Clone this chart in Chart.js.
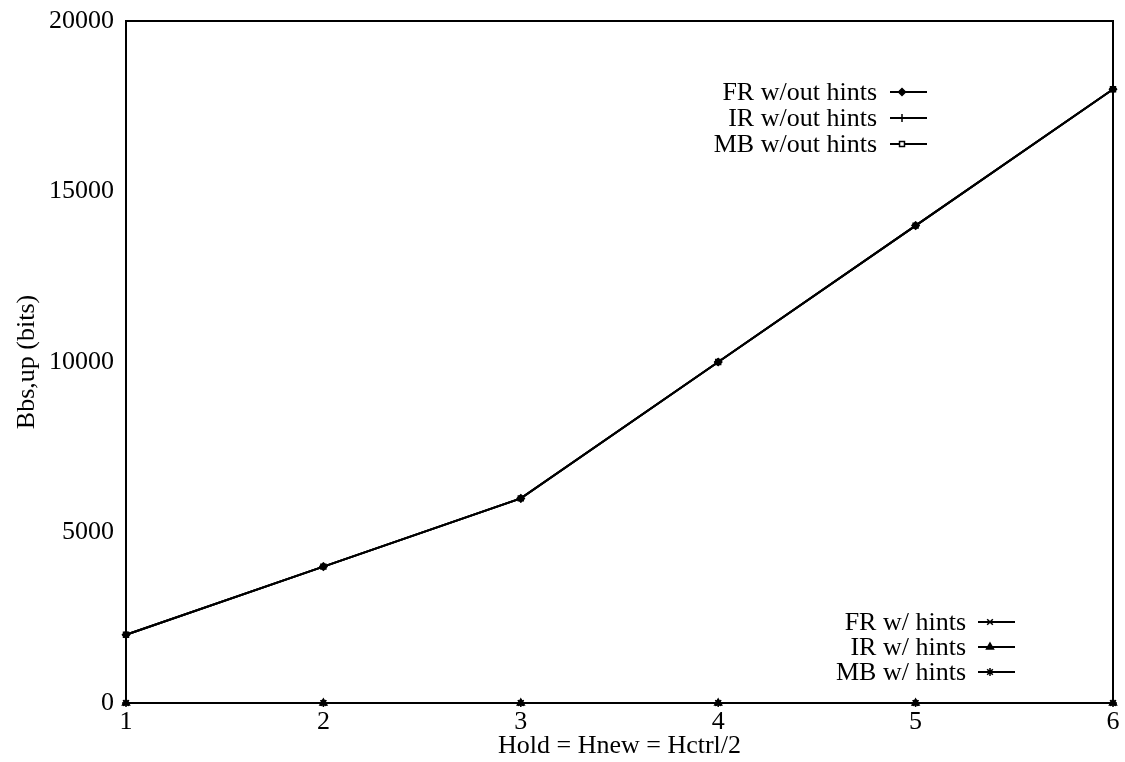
<!DOCTYPE html>
<html>
<head>
<meta charset="utf-8">
<script src="https://cdn.jsdelivr.net/npm/chart.js@4/dist/chart.umd.min.js"></script>
<style>
  html, body { margin: 0; padding: 0; background: #fff; }
  #wrap { width: 1125px; height: 762px; position: relative; }
</style>
</head>
<body>
<div id="wrap"><canvas id="c" width="1125" height="762"></canvas></div>
<script>
// ---- data ----
const xValues = [1, 2, 3, 4, 5, 6];
const frWithoutHints = [2000, 4000, 6000, 10000, 14000, 18000];
const irWithoutHints = [2000, 4000, 6000, 10000, 14000, 18000];
const mbWithoutHints = [2000, 4000, 6000, 10000, 14000, 18000];
const frWithHints = [0, 0, 0, 0, 0, 0];
const irWithHints = [0, 0, 0, 0, 0, 0];
const mbWithHints = [0, 0, 0, 0, 0, 0];
const seriesLabels = ['FR w/out hints', 'IR w/out hints', 'MB w/out hints', 'FR w/ hints', 'IR w/ hints', 'MB w/ hints'];
const yTicks = [0, 5000, 10000, 15000, 20000];
const xTitle = 'Hold = Hnew = Hctrl/2';
const yTitle = 'Bbs,up (bits)';

const FONT = '"Liberation Serif", "Times New Roman", serif';
const FS = 26;

function pts(arr) { return arr.map((v, i) => ({ x: xValues[i], y: v })); }

const styles = [
  { pointStyle: 'rectRot', radius: 3.5, fill: '#000' },
  { pointStyle: 'cross', radius: 4, fill: '#000' },
  { pointStyle: 'rect', radius: 3.5, fill: '#fff' },
  { pointStyle: 'crossRot', radius: 4, fill: '#000' },
  { pointStyle: 'triangle', radius: 4, fill: '#000' },
  { pointStyle: 'star', radius: 4, fill: '#000' }
];
const allSeries = [frWithoutHints, irWithoutHints, mbWithoutHints, frWithHints, irWithHints, mbWithHints];

const datasets = allSeries.map((s, i) => ({
  label: seriesLabels[i],
  data: pts(s),
  borderColor: '#000',
  backgroundColor: styles[i].fill,
  borderWidth: 2,
  pointStyle: styles[i].pointStyle,
  pointRadius: styles[i].radius,
  pointBorderWidth: 1.5,
  pointBorderColor: '#000',
  pointBackgroundColor: styles[i].fill,
  tension: 0,
  fill: false,
  clip: false
}));

const legendGroups = [
  { idx: [0, 1, 2], textRight: 877, x1: 890, x2: 927, mx: 902, ys: [92, 118, 144] },
  { idx: [3, 4, 5], textRight: 966, x1: 978, x2: 1015, mx: 990, ys: [622, 647, 672] }
];

const framePlugin = {
  id: 'frameAndLegend',
  afterDraw(chart) {
    const ctx = chart.ctx;
    const a = chart.chartArea;
    ctx.save();
    ctx.strokeStyle = '#000';
    ctx.lineWidth = 2;
    ctx.strokeRect(a.left, a.top, a.right - a.left, a.bottom - a.top);
    ctx.font = FS + 'px ' + FONT;
    ctx.textAlign = 'right';
    ctx.textBaseline = 'middle';
    legendGroups.forEach(g => {
      g.idx.forEach((di, r) => {
        const y = g.ys[r];
        const ds = chart.data.datasets[di];
        ctx.fillStyle = '#000';
        ctx.fillText(ds.label, g.textRight, y + 1);
        ctx.beginPath();
        ctx.lineWidth = 2;
        ctx.strokeStyle = '#000';
        ctx.moveTo(g.x1, y);
        ctx.lineTo(g.x2, y);
        ctx.stroke();
        ctx.fillStyle = ds.pointBackgroundColor;
        ctx.lineWidth = 1.5;
        Chart.helpers.drawPoint(ctx, { pointStyle: ds.pointStyle, radius: ds.pointRadius, borderWidth: 1.5, rotation: 0 }, g.mx, y);
      });
    });
    ctx.restore();
  }
};

new Chart(document.getElementById('c'), {
  type: 'line',
  data: { datasets },
  options: {
    responsive: false,
    animation: false,
    devicePixelRatio: 1,
    layout: { padding: { top: 21, right: 12, left: 0, bottom: 0 } },
    plugins: { legend: { display: false }, tooltip: { enabled: false } },
    scales: {
      x: {
        type: 'linear',
        min: 1, max: 6,
        afterFit(scale) { scale.height = 59; scale.paddingLeft = 0; scale.paddingRight = 0; },
        grid: { display: false, drawTicks: false },
        border: { display: false },
        ticks: {
          stepSize: 1,
          padding: 4,
          color: '#000',
          font: { family: FONT, size: FS, lineHeight: 1.2 },
          callback: v => String(v)
        },
        title: {
          display: true,
          text: xTitle,
          color: '#000',
          font: { family: FONT, size: FS, lineHeight: 1.2 },
          padding: { top: 0, bottom: 0 }
        }
      },
      y: {
        type: 'linear',
        min: 0, max: 20000,
        afterFit(scale) { scale.width = 126; scale.paddingTop = 0; scale.paddingBottom = 0; },
        afterBuildTicks(scale) { scale.ticks = yTicks.map(v => ({ value: v })); },
        grid: { display: false, drawTicks: false },
        border: { display: false },
        ticks: {
          padding: 12,
          color: '#000',
          font: { family: FONT, size: FS, lineHeight: 1.2 },
          callback: v => String(v)
        },
        title: {
          display: true,
          text: yTitle,
          color: '#000',
          font: { family: FONT, size: FS, lineHeight: 1.2 },
          padding: { top: 12, bottom: 0 }
        }
      }
    }
  },
  plugins: [framePlugin]
});
</script>
</body>
</html>
